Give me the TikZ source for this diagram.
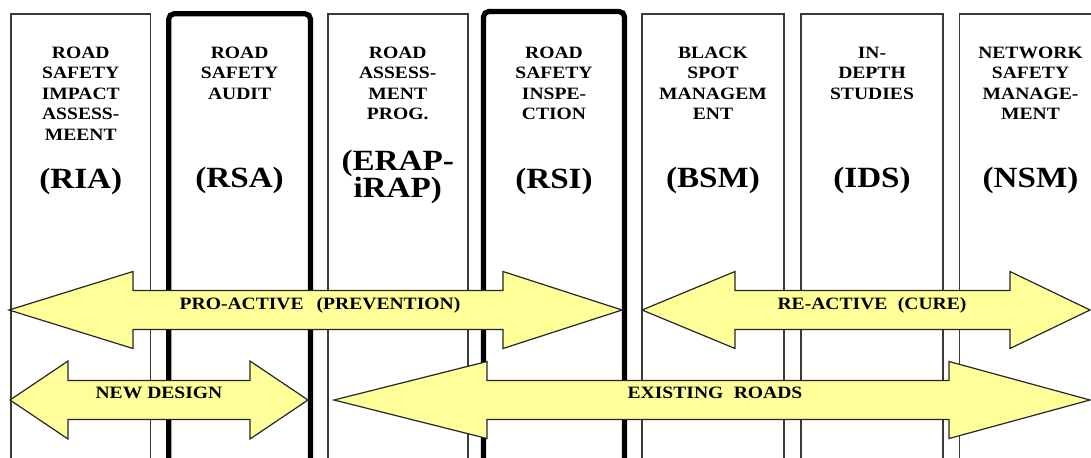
\documentclass[tikz,border=0pt]{standalone}
\usepackage{fontspec}
\setmainfont[FakeStretch=1.13]{Liberation Serif}
\usepackage{xcolor}
\usepackage{tikz}
\definecolor{bandyellow}{HTML}{FFFF99}
\definecolor{rule}{HTML}{3A3A3A}

\begin{document}
\begin{tikzpicture}[x=0.75pt, y=-0.75pt,
  col/.style={draw=rule, line width=1.3pt},
  keycol/.style={draw=black, line width=3.9pt, rounded corners=4pt},
  head/.style={font=\bfseries\fontsize{13}{15.4}\selectfont, align=center,
               anchor=north, inner sep=0pt},
  abbr/.style={font=\bfseries\fontsize{22}{20.3}\selectfont, align=center,
               inner sep=0pt, anchor=base},
  band/.style={draw=black!85, fill=bandyellow, line width=0.9pt, line join=miter},
  tag/.style={font=\bfseries\fontsize{13}{14}\selectfont, inner sep=0pt, anchor=base}
]
  \useasboundingbox (0,0) rectangle (1091,457);
  \clip (0,0) rectangle (1091,457);
  \fill[white] (0,0) rectangle (1091,457);

  % columns, open at the bottom
  \foreach \l/\r in {11/150.5, 327.7/467.7, 642/784.3, 801/943, 959.5/1101}
    \draw[col] (\l,470) |- (\r,14) -- (\r,470);
  \draw[keycol] (168.7,470) |- (310.5,13.8) -- (310.5,470);
  \draw[keycol] (483.5,470) |- (624.5,11.5) -- (624.5,470);

  % column titles
  \node[head] (ria-t) at (80.75,46.5) {ROAD\\SAFETY\\IMPACT\\ASSESS-\\MEENT};
  \node[head] (rsa-t) at (239.6,46.5) {ROAD\\SAFETY\\AUDIT};
  \node[head] (rap-t) at (397.7,46.5) {ROAD\\ASSESS-\\MENT\\PROG.};
  \node[head] (rsi-t) at (554,46.5) {ROAD\\SAFETY\\INSPE-\\CTION};
  \node[head] (bsm-t) at (713,46.5) {BLACK\\SPOT\\MANAGEM\\ENT};
  \node[head] (ids-t) at (872,46.5) {IN-\\DEPTH\\STUDIES};
  \node[head] (nsm-t) at (1030.5,46.5) {NETWORK\\SAFETY\\MANAGE-\\MENT};

  \node[abbr] (ria) at (80.75,188) {(RIA)};
  \node[abbr] (rsa) at (239.6,187) {(RSA)};
  \node[abbr, anchor=north] (rap) at (397.7,150) {(ERAP-\\iRAP)};
  \node[abbr] (rsi) at (554,188) {(RSI)};
  \node[abbr] (bsm) at (713,187) {(BSM)};
  \node[abbr] (ids) at (872,187) {(IDS)};
  \node[abbr] (nsm) at (1030.5,187) {(NSM)};

  % double block arrows
  \draw[band] (9,310) -- (133,271.5) -- (133,290.5) -- (503,290.5) -- (503,271.5)
    -- (622,310) -- (503,348.5) -- (503,329.5) -- (133,329.5) -- (133,348.5) -- cycle;
  \draw[band] (642,310) -- (735,271.5) -- (735,290.5) -- (1010,290.5) -- (1010,271.5)
    -- (1090,310) -- (1010,348.5) -- (1010,329.5) -- (735,329.5) -- (735,348.5) -- cycle;
  \draw[band] (10,400) -- (68,361) -- (68,380.5) -- (250,380.5) -- (250,361)
    -- (308,400) -- (250,439) -- (250,419.5) -- (68,419.5) -- (68,439) -- cycle;
  \draw[band] (334,400) -- (487,361.5) -- (487,380.5) -- (949,380.5) -- (949,361.5)
    -- (1090,400) -- (949,438.5) -- (949,419.5) -- (487,419.5) -- (487,438.5) -- cycle;

  \node[tag] (pro) at (320,309) {PRO-ACTIVE\hspace{0.75em}(PREVENTION)};
  \node[tag] (re) at (872,309) {RE-ACTIVE\hspace{0.6em}(CURE)};
  \node[tag] (new) at (159,398) {NEW DESIGN};
  \node[tag] (old) at (715,398) {EXISTING\hspace{0.6em}ROADS};
\end{tikzpicture}
\end{document}
